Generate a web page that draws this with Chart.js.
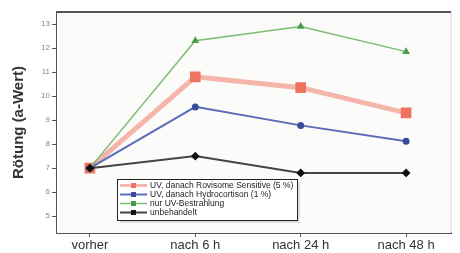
<!DOCTYPE html>
<html>
<head>
<meta charset="utf-8">
<script src="https://cdn.jsdelivr.net/npm/chart.js@4"></script>
<style>
    html, body { margin: 0; padding: 0; background: #fff; }
    #wrap { width: 460px; height: 253px; }
</style>
</head>
<body>
<div id="wrap"><canvas id="roetungChart" width="460" height="253"></canvas></div>
<script>
// Daten
const zeitpunkte = ['vorher', 'nach 6 h', 'nach 24 h', 'nach 48 h'];
const rovisome = [7.0, 10.8, 10.35, 9.3];
const hydrocortison = [7.0, 9.55, 8.78, 8.12];
const nurUV = [7.0, 12.3, 12.9, 11.85];
const unbehandelt = [7.0, 7.5, 6.8, 6.8];
const yTicks = [5, 6, 7, 8, 9, 10, 11, 12, 13];
const serienNamen = ['UV, danach Rovisome Sensitive (5 %)', 'UV, danach Hydrocortison (1 %)', 'nur UV-Bestrahlung', 'unbehandelt'];

function punkte(werte) {
    return werte.map((v, i) => ({ x: i, y: v }));
}

// Rahmen um die Zeichenfläche
const rahmenPlugin = {
    id: 'rahmen',
    beforeDatasetsDraw(chart) {
        const { ctx, chartArea: a } = chart;
        ctx.save();
        ctx.fillStyle = '#fbfbf9';
        ctx.fillRect(a.left, a.top, a.right - a.left, a.bottom - a.top);
        ctx.strokeStyle = '#d8d8d8';
        ctx.lineWidth = 1;
        ctx.beginPath();
        ctx.moveTo(a.right, a.top);
        ctx.lineTo(a.right, a.bottom);
        ctx.stroke();
        ctx.strokeStyle = '#555';
        ctx.lineWidth = 2;
        ctx.beginPath();
        ctx.moveTo(a.left, a.top);
        ctx.lineTo(a.right, a.top);
        ctx.stroke();
        ctx.restore();
    }
};

// Legende als Kasten in der Zeichenfläche
const legendePlugin = {
    id: 'legendeKasten',
    afterDraw(chart) {
        const { ctx } = chart;
        const x = 117, y = 179, w = 180, h = 41;
        ctx.save();
        ctx.fillStyle = '#ddd';
        ctx.fillRect(x + 3, y + 3, w, h);
        ctx.fillStyle = '#fff';
        ctx.fillRect(x, y, w, h);
        ctx.strokeStyle = '#222';
        ctx.lineWidth = 1;
        ctx.strokeRect(x + 0.5, y + 0.5, w, h);
        ctx.font = '8.5px "Liberation Sans", Arial, sans-serif';
        ctx.textBaseline = 'middle';
        chart.data.datasets.forEach((ds, i) => {
            const ly = y + 6.5 + i * 9;
            ctx.strokeStyle = ds.borderColor;
            ctx.lineWidth = Math.min(ds.borderWidth, 3);
            ctx.beginPath();
            ctx.moveTo(x + 3, ly);
            ctx.lineTo(x + 30, ly);
            ctx.stroke();
            ctx.fillStyle = ds.pointBackgroundColor;
            ctx.fillRect(x + 14, ly - 2.5, 5, 5);
            ctx.fillStyle = '#222';
            ctx.fillText(ds.label, x + 33, ly);
        });
        ctx.restore();
    }
};

const ctx = document.getElementById('roetungChart').getContext('2d');

new Chart(ctx, {
    type: 'line',
    data: {
        datasets: [
            {
                label: serienNamen[0],
                data: punkte(rovisome),
                borderColor: 'rgba(242, 135, 118, 0.6)',
                backgroundColor: '#ef7460',
                pointBackgroundColor: '#ef7460',
                pointBorderColor: '#ef7460',
                pointStyle: 'rect',
                pointRadius: 4,
                borderWidth: 5,
                order: 3
            },
            {
                label: serienNamen[1],
                data: punkte(hydrocortison),
                borderColor: '#5a6cb8',
                backgroundColor: '#3a4c9c',
                pointBackgroundColor: '#3a4c9c',
                pointBorderColor: '#3a4c9c',
                pointStyle: 'circle',
                pointRadius: 2.5,
                borderWidth: 2,
                order: 2
            },
            {
                label: serienNamen[2],
                data: punkte(nurUV),
                borderColor: '#7cbc74',
                backgroundColor: '#4c9a4c',
                pointBackgroundColor: '#4c9a4c',
                pointBorderColor: '#4c9a4c',
                pointStyle: 'triangle',
                pointRadius: 3,
                borderWidth: 1.5,
                order: 1
            },
            {
                label: serienNamen[3],
                data: punkte(unbehandelt),
                borderColor: '#444',
                backgroundColor: '#111',
                pointBackgroundColor: '#111',
                pointBorderColor: '#111',
                pointStyle: 'rectRot',
                pointRadius: 3,
                borderWidth: 2,
                order: 0
            }
        ]
    },
    options: {
        responsive: false,
        animation: false,
        layout: { padding: { top: 12, right: 8, left: 0, bottom: 0 } },
        plugins: {
            legend: { display: false },
            tooltip: { enabled: false }
        },
        scales: {
            x: {
                type: 'linear',
                min: -0.312,
                max: 3.426,
                afterBuildTicks: (scale) => {
                    scale.ticks = zeitpunkte.map((_, i) => ({ value: i }));
                },
                afterFit: (scale) => { scale.height = 20; },
                ticks: {
                    callback: (v) => zeitpunkte[v],
                    color: '#333',
                    font: { family: '"Liberation Sans", Arial, sans-serif', size: 13 },
                    padding: 1,
                    maxRotation: 0
                },
                grid: { drawOnChartArea: false, tickLength: 4, color: '#555' },
                border: { color: '#555', width: 2 }
            },
            y: {
                min: 4.3,
                max: 13.5,
                afterBuildTicks: (scale) => {
                    scale.ticks = yTicks.map(v => ({ value: v }));
                },
                afterFit: (scale) => { scale.width = 57; },
                ticks: {
                    color: '#888',
                    font: { family: '"Liberation Sans", Arial, sans-serif', size: 8 },
                    padding: 2
                },
                grid: { drawOnChartArea: false, tickLength: 5, color: '#555' },
                border: { color: '#555', width: 2 },
                title: {
                    display: true,
                    text: 'Rötung (a-Wert)',
                    color: '#333',
                    font: { family: '"Liberation Sans", Arial, sans-serif', size: 15, weight: 'bold' },
                    padding: { top: 10, bottom: 14 }
                }
            }
        }
    },
    plugins: [rahmenPlugin, legendePlugin]
});
</script>
</body>
</html>
